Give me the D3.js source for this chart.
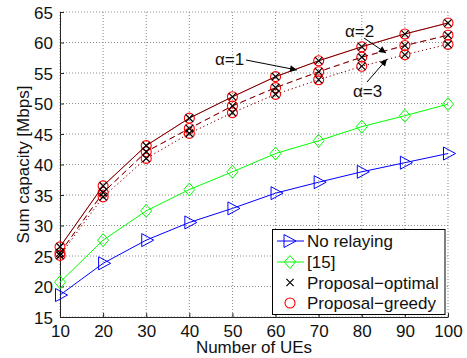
<!DOCTYPE html>
<html>
<head>
<meta charset="utf-8">
<script src="https://cdn.jsdelivr.net/npm/d3@7"></script>
<style>
html,body{margin:0;padding:0;background:#fff;}
svg{display:block;font-family:"Liberation Sans",Arial,Helvetica,sans-serif;}
</style>
</head>
<body>
<svg id="chart" width="467" height="358"></svg>
<script>
// ---- data ----
const ues = [10, 20, 30, 40, 50, 60, 70, 80, 90, 100];
const noRelaying = [18.6, 23.8, 27.6, 30.5, 32.8, 35.3, 37.1, 38.8, 40.3, 41.8];
const ref15 = [20.7, 27.6, 32.4, 35.9, 38.8, 41.8, 43.9, 46.2, 48.0, 49.9];
const optimalAlpha1 = [26.5, 36.5, 43.1, 47.6, 51.1, 54.4, 57.0, 59.3, 61.4, 63.2];
const optimalAlpha2 = [25.5, 35.4, 42.1, 45.9, 49.6, 52.6, 55.2, 57.6, 59.5, 61.2];
const optimalAlpha3 = [25.1, 34.7, 41.0, 45.1, 48.5, 51.5, 53.9, 56.1, 58.0, 59.7];
const greedyAlpha1 = [26.5, 36.5, 43.1, 47.6, 51.1, 54.4, 57.0, 59.3, 61.4, 63.2];
const greedyAlpha2 = [25.5, 35.4, 42.1, 45.9, 49.6, 52.6, 55.2, 57.6, 59.5, 61.2];
const greedyAlpha3 = [25.1, 34.7, 41.0, 45.1, 48.5, 51.5, 53.9, 56.1, 58.0, 59.7];
const xTicks = [10, 20, 30, 40, 50, 60, 70, 80, 90, 100];
const yTicks = [15, 20, 25, 30, 35, 40, 45, 50, 55, 60, 65];
const legendLabels = ["No relaying", "[15]", "Proposal\u2212optimal", "Proposal\u2212greedy"];

// ---- layout ----
const svg = d3.select("#chart");
const pL = 60, pR = 448, pT = 12, pB = 317;
const x = d3.scaleLinear().domain([10, 100]).range([pL, pR]);
const y = d3.scaleLinear().domain([15, 65]).range([pB, pT]);
const fs = 17;

// grid
const grid = svg.append("g");
grid.selectAll("line.gx").data(xTicks).enter().append("line")
  .attr("x1", d => x(d)).attr("x2", d => x(d)).attr("y1", pT).attr("y2", pB)
  .attr("stroke", "#8a8a8a").attr("stroke-width", 1).attr("stroke-dasharray", "1,2");
grid.selectAll("line.gy").data(yTicks).enter().append("line")
  .attr("x1", pL).attr("x2", pR).attr("y1", d => y(d)).attr("y2", d => y(d))
  .attr("stroke", "#8a8a8a").attr("stroke-width", 1).attr("stroke-dasharray", "1,2");

// axes
const xAxis = d3.axisBottom(x).tickValues(xTicks).tickSizeInner(-4).tickSizeOuter(0).tickPadding(8);
const yAxis = d3.axisLeft(y).tickValues(yTicks).tickSizeInner(-4).tickSizeOuter(0).tickPadding(7);
const gx = svg.append("g").attr("transform", `translate(0,${pB})`).call(xAxis);
const gy = svg.append("g").attr("transform", `translate(${pL},0)`).call(yAxis);
[gx, gy].forEach(g => {
  g.select(".domain").attr("stroke", "#262626").attr("stroke-width", 1);
  g.selectAll(".tick line").attr("stroke", "#262626");
  g.selectAll(".tick text").attr("fill", "#111").style("font-size", fs + "px")
    .style("font-family", '"Liberation Sans",Arial,sans-serif');
});
gy.selectAll(".tick text").attr("dy", "0.36em");

// axis titles
svg.append("text").attr("x", (pL + pR) / 2).attr("y", 353).attr("text-anchor", "middle")
  .style("font-size", fs + "px").attr("fill", "#111").text("Number of UEs");
svg.append("text").attr("transform", `translate(29,${(pT + pB) / 2}) rotate(-90)`)
  .attr("text-anchor", "middle").style("font-size", fs + "px").attr("fill", "#111")
  .text("Sum capacity [Mbps]");

// line generator
const line = d3.line().x((d, i) => x(ues[i])).y(d => y(d));
const plot = svg.append("g");

function drawLine(vals, color, dash) {
  plot.append("path").datum(vals).attr("d", line).attr("fill", "none")
    .attr("stroke", color).attr("stroke-width", 1).attr("stroke-dasharray", dash || null);
}
function triPath(cx, cy) { return `M${cx - 4.5},${cy - 6.5}L${cx + 7.5},${cy}L${cx - 4.5},${cy + 6.5}Z`; }
function diaPath(cx, cy) { return `M${cx},${cy - 6.5}L${cx + 5.5},${cy}L${cx},${cy + 6.5}L${cx - 5.5},${cy}Z`; }
function crossPath(cx, cy) { const s = 3.6; return `M${cx - s},${cy - s}L${cx + s},${cy + s}M${cx - s},${cy + s}L${cx + s},${cy - s}`; }

function drawMarkers(vals, kind) {
  const g = plot.append("g");
  vals.forEach((v, i) => {
    const cx = x(ues[i]), cy = y(v);
    if (kind === "tri") g.append("path").attr("d", triPath(cx, cy)).attr("fill", "none").attr("stroke", "#0000ff");
    if (kind === "dia") g.append("path").attr("d", diaPath(cx, cy)).attr("fill", "none").attr("stroke", "#00ff00");
    if (kind === "x") g.append("path").attr("d", crossPath(cx, cy)).attr("fill", "none").attr("stroke", "#000").attr("stroke-width", 1.2);
    if (kind === "o") g.append("circle").attr("cx", cx).attr("cy", cy).attr("r", 5).attr("fill", "none").attr("stroke", "#ff0000").attr("stroke-width", 1.1);
  });
}

drawLine(noRelaying, "#0000ff"); drawMarkers(noRelaying, "tri");
drawLine(ref15, "#00ff00"); drawMarkers(ref15, "dia");
drawLine(greedyAlpha1, "#ff0000"); drawLine(greedyAlpha2, "#ff0000", "6,4"); drawLine(greedyAlpha3, "#ff0000", "1,3");
drawMarkers(greedyAlpha1, "o"); drawMarkers(greedyAlpha2, "o"); drawMarkers(greedyAlpha3, "o");
drawLine(optimalAlpha1, "#000", null); drawLine(optimalAlpha2, "#000", "6,4"); drawLine(optimalAlpha3, "#000", "1,3");
drawMarkers(optimalAlpha1, "x"); drawMarkers(optimalAlpha2, "x"); drawMarkers(optimalAlpha3, "x");
plot.selectAll("path").filter(function () { return d3.select(this).attr("stroke") === "#000" && d3.select(this).datum(); })
  .attr("stroke-opacity", 0.55);

// annotations
const defs = svg.append("defs");
defs.append("marker").attr("id", "ah").attr("viewBox", "0 0 10 10").attr("refX", 10).attr("refY", 5)
  .attr("markerWidth", 9).attr("markerHeight", 7).attr("markerUnits", "userSpaceOnUse").attr("orient", "auto")
  .append("path").attr("d", "M0,0L10,5L0,10Z").attr("fill", "#000");
const annots = [
  { t: "\u03b1=1", tx: 215, ty: 65, x1: 246, y1: 60, x2: 297, y2: 70 },
  { t: "\u03b1=2", tx: 345, ty: 37, x1: 364, y1: 38, x2: 386, y2: 53 },
  { t: "\u03b1=3", tx: 353, ty: 97, x1: 367, y1: 82, x2: 387, y2: 59 }
];
annots.forEach(a => {
  svg.append("line").attr("x1", a.x1).attr("y1", a.y1).attr("x2", a.x2).attr("y2", a.y2)
    .attr("stroke", "#000").attr("stroke-width", 1).attr("marker-end", "url(#ah)");
  svg.append("text").attr("x", a.tx).attr("y", a.ty).style("font-size", fs + "px").attr("fill", "#111").text(a.t);
});

// legend
const lg = svg.append("g");
lg.append("rect").attr("x", 272.5).attr("y", 229.5).attr("width", 172.5).attr("height", 85)
  .attr("fill", "#fff").attr("stroke", "#000").attr("stroke-width", 1);
const rows = [241, 262, 282.5, 303];
const mx = 290;
lg.append("line").attr("x1", 277).attr("x2", 304).attr("y1", rows[0]).attr("y2", rows[0]).attr("stroke", "#0000ff");
lg.append("path").attr("d", triPath(mx - 1.5, rows[0])).attr("fill", "none").attr("stroke", "#0000ff");
lg.append("line").attr("x1", 277).attr("x2", 304).attr("y1", rows[1]).attr("y2", rows[1]).attr("stroke", "#00ff00");
lg.append("path").attr("d", diaPath(mx, rows[1])).attr("fill", "none").attr("stroke", "#00ff00");
lg.append("path").attr("d", crossPath(mx, rows[2])).attr("stroke", "#000").attr("stroke-width", 1.2);
lg.append("circle").attr("cx", mx).attr("cy", rows[3]).attr("r", 5).attr("fill", "none").attr("stroke", "#ff0000").attr("stroke-width", 1.1);
lg.selectAll("text").data(legendLabels).enter().append("text")
  .attr("x", 307).attr("y", (d, i) => rows[i]).attr("dy", "0.36em")
  .style("font-size", fs + "px").attr("fill", "#111").text(d => d);
</script>
</body>
</html>
